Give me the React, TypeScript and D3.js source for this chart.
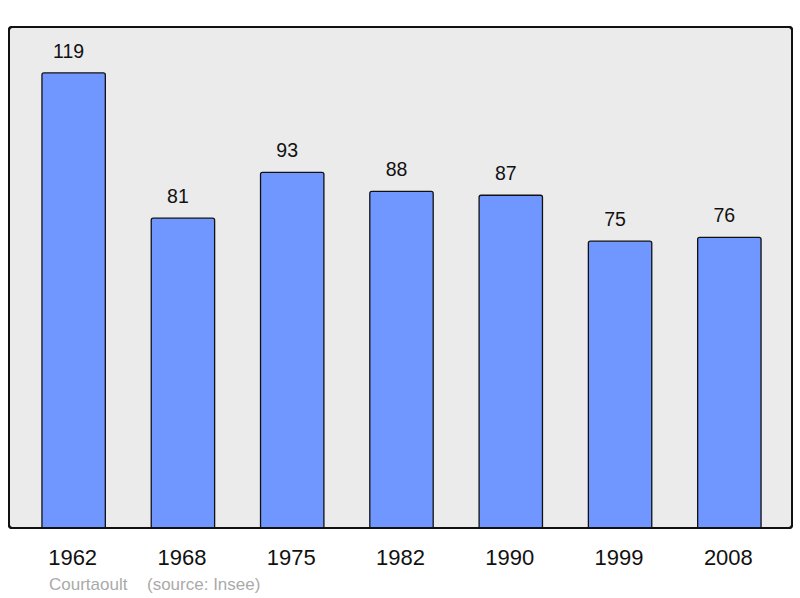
import React from "react";
import * as d3 from "d3";

const years = ["1962", "1968", "1975", "1982", "1990", "1999", "2008"];
const values = [119, 81, 93, 88, 87, 75, 76];
const footerName = "Courtaoult";
const footerSource = "(source: Insee)";

export default function App() {
  const W = 800, H = 598;
  const plot = { x0: 9, x1: 792, y0: 27, y1: 528 };
  const x = d3.scaleBand<string>().domain(years).range([19, 784]).paddingInner(0.42).paddingOuter(0.21);
  const y = d3.scaleLinear().domain([0, 131]).range([plot.y1, plot.y0]);
  const font = "'Liberation Sans', Arial, sans-serif";
  return (
    <svg width={W} height={H} style={{ position: "absolute", left: 0, top: 0 }} fontFamily={font}>
      <rect x={plot.x0} y={plot.y0} width={plot.x1 - plot.x0} height={plot.y1 - plot.y0} rx={3} fill="#ebebeb" stroke="#111" strokeWidth={2} />
      {years.map((yr, i) => {
        const bx = x(yr)!;
        const bw = x.bandwidth();
        const top = y(values[i]);
        return (
          <g key={yr}>
            <path
              d={`M${bx},${plot.y1} V${top + 2} Q${bx},${top} ${bx + 2},${top} H${bx + bw - 2} Q${bx + bw},${top} ${bx + bw},${top + 2} V${plot.y1}`}
              fill="#7096ff" stroke="#111" strokeWidth={1.3} />
            <text x={bx + bw / 2 - 5} y={top - 15} textAnchor="middle" fontSize={19.5} fill="#111">{values[i]}</text>
            <text x={bx + bw / 2 - 1} y={565} textAnchor="middle" fontSize={22} fill="#111">{yr}</text>
          </g>
        );
      })}
      <rect x={plot.x0} y={plot.y0} width={plot.x1 - plot.x0} height={plot.y1 - plot.y0} rx={3} fill="none" stroke="#111" strokeWidth={2} />
      <text x={49} y={590} fontSize={17} fill="#aaaaaa">{footerName}</text>
      <text x={147} y={590} fontSize={17} fill="#aaaaaa">{footerSource}</text>
    </svg>
  );
}
